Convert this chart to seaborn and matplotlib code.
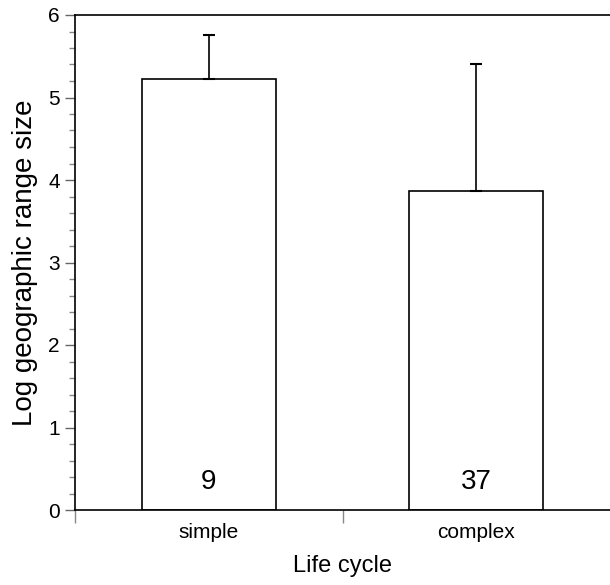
import matplotlib
matplotlib.use("Agg")
import matplotlib.pyplot as plt
import seaborn as sns
import pandas as pd
from matplotlib.ticker import MultipleLocator, FixedLocator

categories = ["simple", "complex"]
means = [5.22, 3.87]
upper_err = [0.54, 1.54]
counts = ["9", "37"]

sns.set_theme(style="white")
plt.rcParams['font.family'] = ['Liberation Sans', 'DejaVu Sans']
plt.rcParams['text.color'] = 'black'
plt.rcParams['axes.labelcolor'] = 'black'
plt.rcParams['xtick.labelcolor'] = 'black'
plt.rcParams['ytick.labelcolor'] = 'black'

df = pd.DataFrame({"cycle": categories, "value": means})

fig = plt.figure(figsize=(6.1, 5.85), dpi=100)
ax = fig.add_axes([75/610, 1 - 510/585, 1 - 75/610, (510 - 15)/585])

sns.barplot(data=df, x="cycle", y="value", order=categories, color="white",
            edgecolor="black", linewidth=1.2, width=0.5, errorbar=None, ax=ax,
            saturation=1)

xs = range(len(categories))
ax.errorbar(list(xs), means, yerr=[[0]*len(means), upper_err], fmt="none",
            ecolor="black", elinewidth=1.2, capsize=4, capthick=1.5, zorder=1)

for x, m, c in zip(xs, means, counts):
    ax.text(x, 0.34, c, ha="center", va="center", fontsize=20, color="black")

ax.set_xlim(-0.5, 1.5)
ax.set_ylim(0, 6)
ax.yaxis.set_major_locator(MultipleLocator(1))
ax.yaxis.set_minor_locator(MultipleLocator(0.2))
ax.xaxis.set_minor_locator(FixedLocator([-0.5, 0.5]))

ax.tick_params(axis="y", which="major", direction="out", length=7, width=1,
               color="#666666", labelsize=15, pad=4, left=True, labelcolor="black")
ax.tick_params(axis="y", which="minor", direction="out", length=4, width=1,
               color="#888888", left=True)
ax.tick_params(axis="x", which="major", length=0, labelsize=15, pad=9, bottom=True,
               labelcolor="black")
ax.tick_params(axis="x", which="minor", direction="out", length=9, width=1,
               color="#888888", bottom=True)

for s in ["left", "bottom", "top"]:
    ax.spines[s].set_visible(True)
    ax.spines[s].set_color("black")
    ax.spines[s].set_linewidth(1.2)
ax.spines["right"].set_visible(False)

ax.set_xlabel("Life cycle", fontsize=17, labelpad=10, color="black")
ax.set_ylabel("Log geographic range size", fontsize=20, labelpad=7, color="black")

fig.savefig("out.png", dpi=100)
